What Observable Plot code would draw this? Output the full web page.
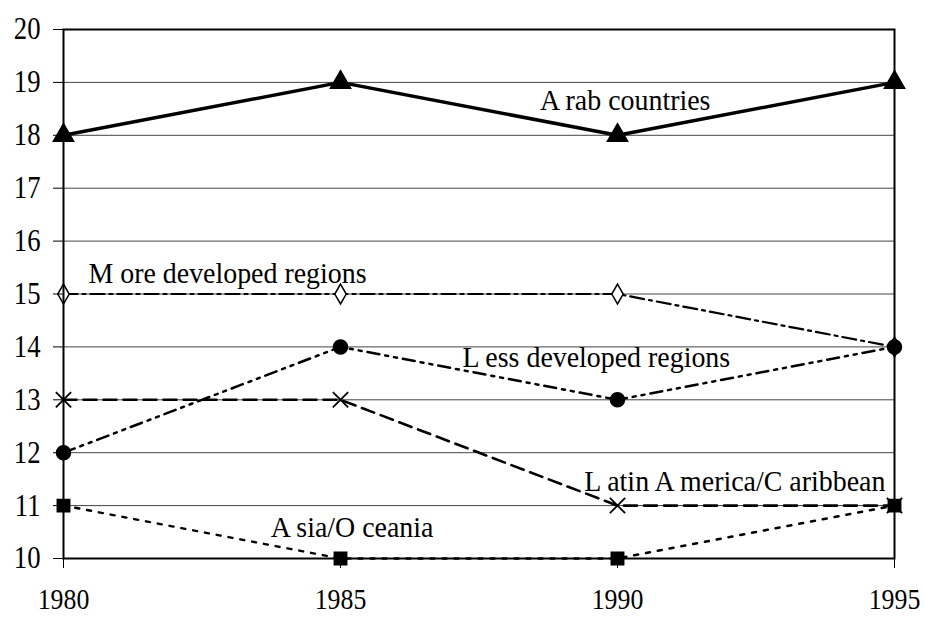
<!DOCTYPE html>
<html><head><meta charset="utf-8">
<script src="https://cdn.jsdelivr.net/npm/d3@7"></script>
<script src="https://cdn.jsdelivr.net/npm/@observablehq/plot@0.6"></script>
<style>body{margin:0;background:#fff}</style>
</head><body><div id="chart"></div>
<script>
const years = [1980, 1985, 1990, 1995];
const seriesNames = ["A rab countries", "M ore developed regions", "L ess developed regions", "L atin A merica/C aribbean", "A sia/O ceania"];
const arab = [18, 19, 18, 19];
const moreDev = [15, 15, 15, 14];
const lessDev = [12, 14, 13, 14];
const latin = [13, 13, 11, 11];
const asia = [11, 10, 10, 11];
const yTicks = [10, 11, 12, 13, 14, 15, 16, 17, 18, 19, 20];
// label anchor points (data coords)
const labelX = [1988.6, 1980.45, 1987.2, 1989.4, 1983.74];
const labelY = [18.66, 15.39, 13.8, 11.45, 10.59];

const values = [arab, moreDev, lessDev, latin, asia];
const styles = [
  {dash: null, width: 3.5, symbol: "triangle", fill: "black", r: 7.5},
  {dash: "14,5,3,5", width: 2.2, symbol: "diamond", fill: "white", r: 6},
  {dash: "12,6,3,6,3,6", width: 2.5, symbol: "circle", fill: "black", r: 7},
  {dash: "13,7", width: 2.6, symbol: "times", fill: "none", r: 7},
  {dash: "4,8", width: 2.5, symbol: "square", fill: "black", r: 7}
];
const rows = values.map((vals, i) => years.map((yr, j) => ({series: seriesNames[i], year: yr, value: vals[j]})));
const labels = seriesNames.map((n, i) => ({text: n, x: labelX[i], y: labelY[i]}));

const serif = "Liberation Serif";
const marks = [
  Plot.gridY(yTicks, {stroke: "#444", strokeOpacity: 1, strokeWidth: 1}),
];
rows.forEach((data, i) => {
  const s = styles[i];
  marks.push(Plot.line(data, {x: "year", y: "value", stroke: "black", strokeWidth: s.width, strokeDasharray: s.dash || undefined}));
});
rows.forEach((data, i) => {
  const s = styles[i];
  marks.push(Plot.dot(data, {x: "year", y: "value", symbol: s.symbol, r: s.r,
    fill: s.symbol === "times" ? "none" : s.fill,
    stroke: "black", strokeWidth: s.symbol === "times" ? 1.8 : 1.5}));
});
marks.push(Plot.frame({stroke: "black", strokeWidth: 2}));
marks.push(Plot.axisY(yTicks, {tickSize: 10, tickPadding: 13, fontSize: 31, fontFamily: serif, tickFormat: d => String(d)}));
marks.push(Plot.axisX(years, {tickSize: 10, tickPadding: 20, fontSize: 29, fontFamily: serif, tickFormat: d => String(d), className: "x-axis"}));
marks.push(Plot.text(labels, {x: "x", y: "y", text: "text", textAnchor: "start", fontSize: 30, fontFamily: serif, fill: "black", className: "series-label"}));

const chart = Plot.plot({
  width: 925, height: 620,
  marginLeft: 63, marginRight: 31, marginTop: 29, marginBottom: 62,
  style: {fontFamily: serif, background: "white", color: "black"},
  x: {domain: [1980, 1995], axis: null},
  y: {domain: [10, 20], axis: null},
  marks
});
document.getElementById("chart").appendChild(chart);
// condense serif text horizontally to match the narrow face of the reference
chart.querySelectorAll("text").forEach(t => {
  const f = t.closest(".series-label") ? 0.93 : t.closest(".x-axis") ? 0.89 : 0.86;
  const w = t.getComputedTextLength();
  if (w > 0) {
    t.setAttribute("textLength", (w * f).toFixed(1));
    t.setAttribute("lengthAdjust", "spacingAndGlyphs");
  }
});
</script>
</body></html>
